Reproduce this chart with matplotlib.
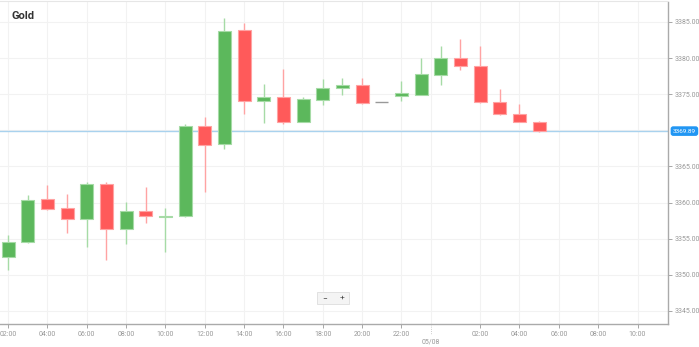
import numpy as np
import matplotlib
matplotlib.use('Agg')
import matplotlib.pyplot as plt
from matplotlib.patches import Rectangle

# Velas horárias do ouro (02:00 até 05:00 do dia seguinte)
opens = [3352.5, 3354.5, 3360.5, 3359.3, 3357.7, 3362.6, 3356.3, 3358.8, 3358.0, 3358.1,
         3370.6, 3368.1, 3383.9, 3374.1, 3374.6, 3371.2, 3374.2, 3375.9, 3376.2, 3373.9,
         3374.8, 3374.9, 3377.7, 3380.0, 3378.9, 3373.9, 3372.2, 3371.2]
highs = [3355.5, 3361.1, 3362.4, 3361.2, 3362.8, 3362.8, 3360.1, 3362.1, 3359.2, 3370.9,
         3371.8, 3385.6, 3384.9, 3376.4, 3378.5, 3374.6, 3377.1, 3377.3, 3377.2, 3373.9,
         3376.8, 3380.0, 3381.7, 3382.7, 3381.6, 3375.7, 3373.6, 3371.3]
lows = [3350.7, 3354.4, 3359.0, 3355.8, 3353.9, 3352.0, 3354.3, 3357.2, 3353.2, 3358.0,
        3361.5, 3367.4, 3372.3, 3371.0, 3370.9, 3371.1, 3373.5, 3374.9, 3373.7, 3373.9,
        3374.0, 3374.9, 3376.3, 3378.3, 3373.8, 3372.1, 3371.1, 3369.8]
closes = [3354.6, 3360.4, 3359.1, 3357.7, 3362.6, 3356.3, 3358.8, 3358.1, 3358.2, 3370.6,
          3368.0, 3383.8, 3374.1, 3374.6, 3371.2, 3374.3, 3375.9, 3376.2, 3373.8, 3373.9,
          3375.1, 3377.8, 3380.0, 3378.9, 3373.9, 3372.2, 3371.2, 3369.89]
last_price = 3369.89

# Rótulos do eixo x (posição em horas a partir de 02:00)
xtick_pos = [0, 2, 4, 6, 8, 10, 12, 14, 16, 18, 20, 24, 26, 28, 30, 32]
xtick_labels = ['02:00', '04:00', '06:00', '08:00', '10:00', '12:00', '14:00', '16:00',
                '18:00', '20:00', '22:00', '02:00', '04:00', '06:00', '08:00', '10:00']
day_pos = 21.5
day_label = '05/08'
ygrid_vals = [3345, 3350, 3355, 3360, 3365, 3370, 3375, 3380, 3385]
ytick_vals = [3345, 3350, 3355, 3360, 3365, 3375, 3380, 3385]  # 3370 fica sob a etiqueta

verde, verde_claro = '#5cb85c', '#a6dba6'
vermelho, vermelho_claro = '#ff5a5a', '#ffa3a3'

plt.rcParams['font.family'] = ['Roboto', 'DejaVu Sans']

fig = plt.figure(figsize=(6.99, 3.47), dpi=100)
ax = fig.add_axes([0.0, 23 / 347, 668 / 699, 322 / 347])

x = np.arange(len(opens))
o = np.array(opens)
c = np.array(closes)

for i in x:
    if c[i] > o[i]:
        cor, cor_claro = verde, verde_claro
    elif c[i] < o[i]:
        cor, cor_claro = vermelho, vermelho_claro
    else:
        cor, cor_claro = '#999999', '#999999'
    ax.vlines(i, lows[i], highs[i], color=cor_claro, linewidth=1, zorder=2)
    if c[i] == o[i]:
        ax.hlines(o[i], i - 0.33, i + 0.33, color=cor, linewidth=1, zorder=3)
    else:
        ax.bar(i, abs(c[i] - o[i]), bottom=min(o[i], c[i]), width=0.66,
               color=cor, edgecolor=cor_claro, linewidth=0.8, zorder=3)

# Linha do último preço
ax.axhline(last_price, color='#a9d2ee', linewidth=1, zorder=1)

ax.set_xlim(-0.41, 33.55)
ax.set_ylim(3343.2, 3387.75)

ax.set_xticks(xtick_pos)
ax.set_xticklabels(xtick_labels)
ax.set_yticks(ytick_vals)
ax.set_yticklabels([f'{v:.2f}' for v in ytick_vals])
ax.yaxis.tick_right()
ax.tick_params(axis='both', labelsize=5, colors='#999999', length=3, width=0.6)
ax.tick_params(axis='x', pad=2)
ax.tick_params(axis='y', pad=1.5)

# Grade
for xp in xtick_pos + [day_pos]:
    ax.axvline(xp, color='#f2f2f2', linewidth=0.8, zorder=0)
for yv in ygrid_vals:
    ax.axhline(yv, color='#f2f2f2', linewidth=0.8, zorder=0)

for lado in ['left', 'top']:
    ax.spines[lado].set_visible(False)
ax.spines['right'].set_color('#aaaaaa')
ax.spines['bottom'].set_color('#aaaaaa')
ax.spines['right'].set_linewidth(1)
ax.spines['bottom'].set_linewidth(1)

# Linha fina no topo
fig.add_artist(plt.Line2D([0, 668 / 699], [1 - 1 / 347, 1 - 1 / 347], color='#e6e6e6',
                          linewidth=0.8, transform=fig.transFigure))

# Marcador do dia
trans = ax.get_xaxis_transform()
ax.plot([day_pos, day_pos], [0, -0.034], color='#bbbbbb', linewidth=0.6,
        linestyle=':', clip_on=False, transform=trans)
ax.text(day_pos, -0.056, day_label, ha='center', va='center', fontsize=5,
        color='#999999', clip_on=False, transform=trans)

# Etiqueta do último preço
ax.text(33.55 + 0.25, last_price, f'{last_price:.2f}', ha='left', va='center',
        fontsize=4.6, color='white', clip_on=False,
        bbox=dict(boxstyle='round,pad=0.25,rounding_size=0.3', fc='#2196f3', ec='#2196f3'))

# Título
fig.text(11 / 699, 1 - 16 / 347, 'Gold', fontsize=8, fontweight='bold', color='#333333',
         va='center', ha='left')

# Botões de zoom
fig.add_artist(Rectangle((317 / 699, 1 - 304 / 347), 32 / 699, 12 / 347, transform=fig.transFigure,
                         facecolor='#f4f4f4', edgecolor='#dddddd', linewidth=0.6))
fig.text(325 / 699, 1 - 298 / 347, '−', fontsize=6, color='#444444', ha='center', va='center')
fig.text(342 / 699, 1 - 298 / 347, '+', fontsize=6, color='#444444', ha='center', va='center')

fig.savefig('out.png', dpi=100)
